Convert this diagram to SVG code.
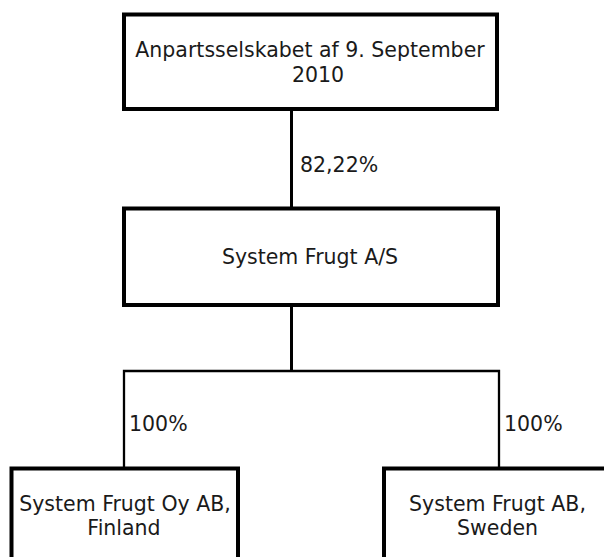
<svg xmlns="http://www.w3.org/2000/svg" width="604" height="557" viewBox="0 0 604 557">
<style>
.box{fill:#fff;stroke:#000;stroke-width:4}
.ln{fill:none;stroke:#000}
text{font-family:"DejaVu Sans",Verdana,sans-serif;font-size:20.5px;fill:#1a1a1a}
.m{text-anchor:middle}
</style>
<rect width="604" height="557" fill="#fff"/>
<g id="connectors">
<line class="ln" x1="291.5" y1="109" x2="291.5" y2="208" stroke-width="3"/>
<line class="ln" x1="291.5" y1="305" x2="291.5" y2="371" stroke-width="3"/>
<polyline class="ln" points="124,468 124,371 499,371 499,468" stroke-width="2.3"/>
<text x="300" y="172">82,22%</text>
<text x="129" y="431">100%</text>
<text x="504" y="431">100%</text>
</g>
<g id="node-top">
<rect class="box" x="124" y="14.5" width="373" height="94.5"/>
<text class="m" x="310" y="57">Anpartsselskabet af 9. September</text>
<text class="m" x="318" y="82">2010</text>
</g>
<g id="node-mid">
<rect class="box" x="124" y="208.5" width="374" height="96.5"/>
<text class="m" x="310" y="264">System Frugt A/S</text>
</g>
<g id="node-fi">
<rect class="box" x="11.5" y="468.5" width="226.5" height="100"/>
<text class="m" x="125" y="511">System Frugt Oy AB,</text>
<text class="m" x="124" y="535">Finland</text>
</g>
<g id="node-se">
<rect class="box" x="384" y="468.5" width="240" height="100"/>
<text class="m" x="497.5" y="511">System Frugt AB,</text>
<text class="m" x="497.5" y="535">Sweden</text>
</g>
</svg>
